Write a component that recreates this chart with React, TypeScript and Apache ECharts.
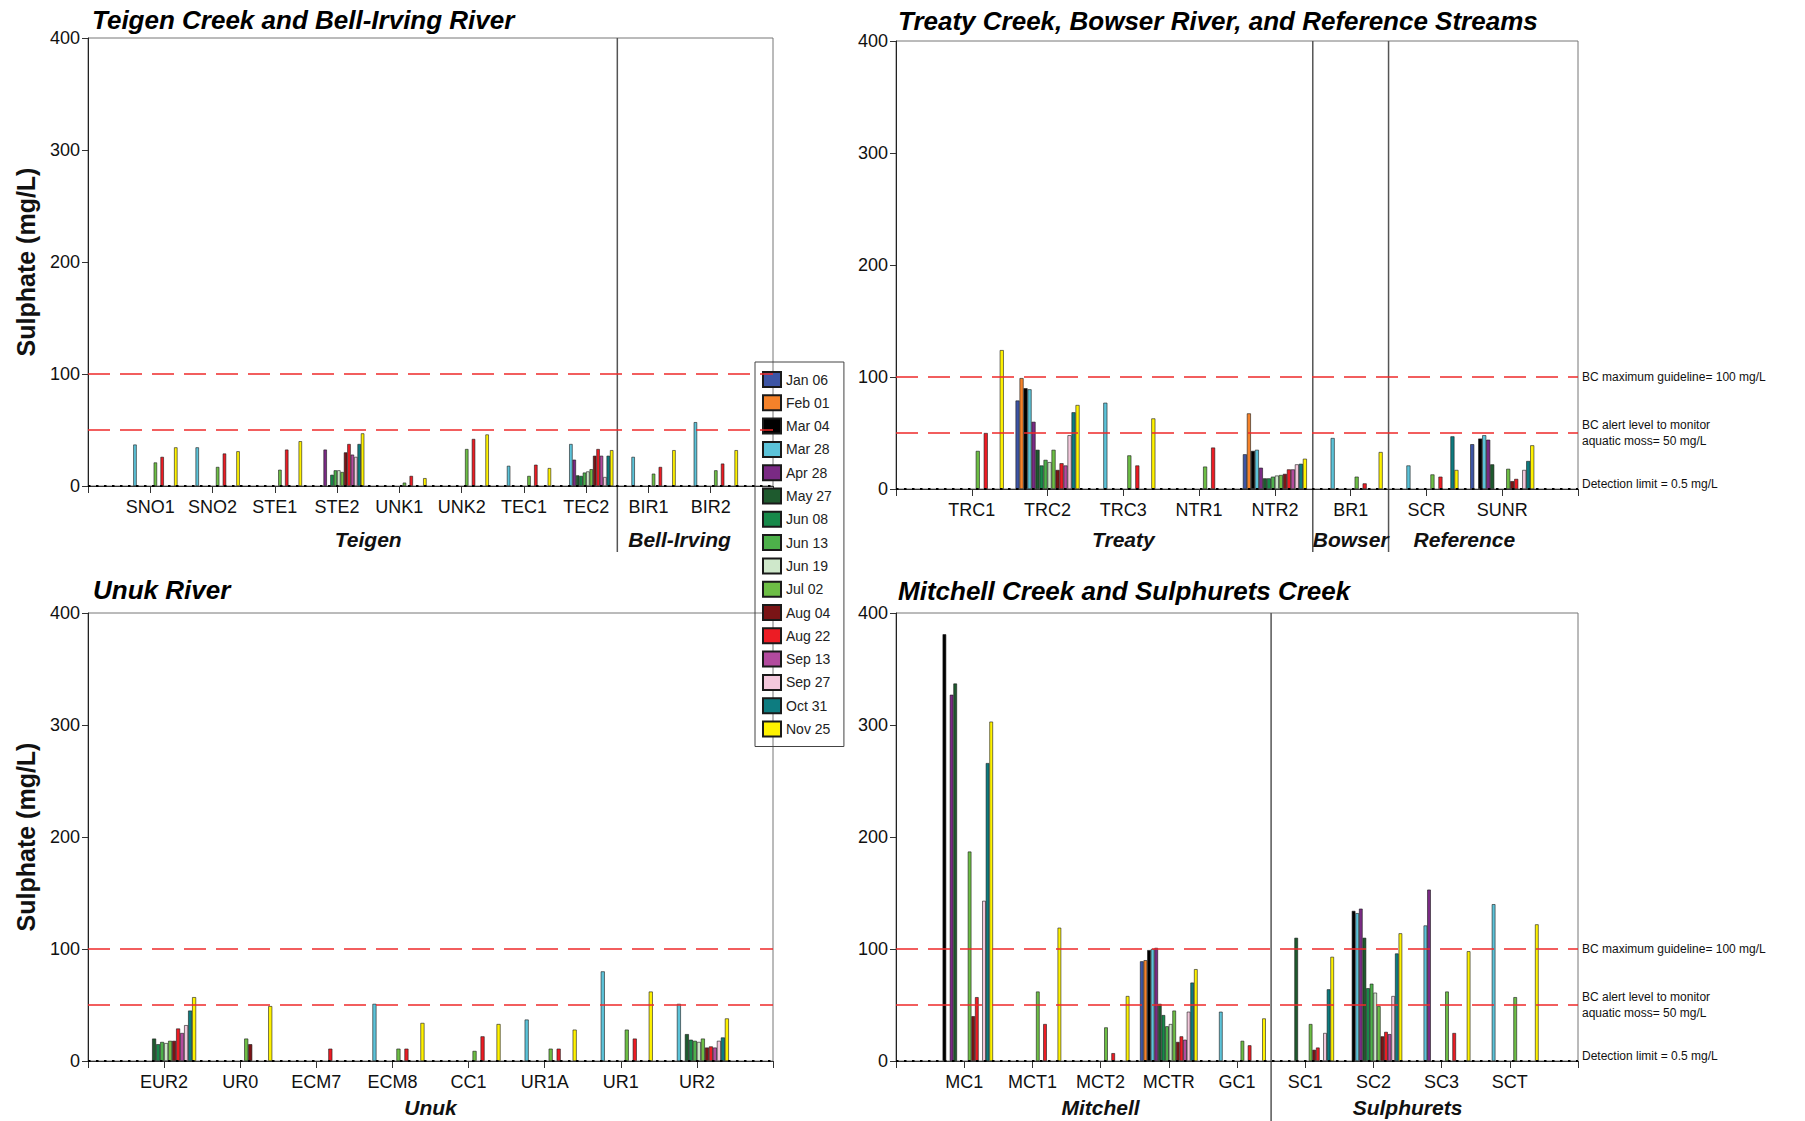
import React, { useEffect, useRef } from "react";
import * as echarts from "echarts";

const _ = null;
const DATES = ["Jan 06","Feb 01","Mar 04","Mar 28","Apr 28","May 27","Jun 08","Jun 13","Jun 19","Jul 02","Aug 04","Aug 22","Sep 13","Sep 27","Oct 31","Nov 25"];
const COLORS = ["#3D55A5","#F5822A","#000000","#5CC3D9","#7A2A84","#1E5A2E","#17894A","#4DB04A","#CFE8CB","#6DBE45","#7A1416","#EC1C24","#B24A9E","#F3C8DC","#0D7C80","#FFF200"];

// values per site, 16 sampling dates (Jan 06 ... Nov 25)
const SNO1 = [_,_,_,37,_,_,_,_,_,21,_,26,_,_,_,34.5];
const SNO2 = [_,_,_,34.5,_,_,_,_,_,17,_,29,_,_,_,31];
const STE1 = [_,_,_,_,_,_,_,_,_,14.5,_,32.5,_,_,_,40];
const STE2 = [_,_,_,_,32.5,_,10,14,14,12.5,30,37.5,28,26,37.5,47];
const UNK1 = [_,_,_,_,_,_,_,_,_,3,_,9,_,_,_,7];
const UNK2 = [_,_,_,_,_,_,_,_,_,33,_,42,_,_,_,46];
const TEC1 = [_,_,_,18,_,_,_,_,_,9,_,19,_,_,_,16];
const TEC2 = [_,_,_,37.5,23.5,9.5,9,12,13,15,27,33,27,8,27,32];
const BIR1 = [_,_,_,26,_,_,_,_,_,11,_,17,_,_,_,32];
const BIR2 = [_,_,_,57,_,_,_,_,_,14,_,20,_,_,_,32];

const TRC1 = [_,_,_,_,_,_,_,_,_,34,_,50,_,_,_,124];
const TRC2 = [79,99,90,89,60,35,21,26,24,35,17,23,21,48,68.5,75];
const TRC3 = [_,_,_,77,_,_,_,_,_,30,_,21,_,_,_,63];
const NTR1 = [_,_,_,_,_,_,_,_,_,20,_,37,_,_,_,_];
const NTR2 = [31,67.5,34,35,19,9.5,9.5,11,12,12.5,13.5,17.5,17.5,22,22.5,27];
const BR1 = [_,_,_,45.5,_,_,_,_,_,11,_,5,_,_,_,33];
const SCR = [_,_,_,21,_,_,_,_,_,13,_,11,_,_,47,17];
const SUNR = [40,_,45,48,44,22,_,_,_,18,7,9,_,17,25,39];

const EUR2 = [_,_,_,_,_,20,15,17,16,18,18,29,25,32,45,57];
const UR0 = [_,_,_,_,_,_,_,_,_,20,15,_,_,_,_,49];
const ECM7 = [_,_,_,_,_,_,_,_,_,_,_,11,_,_,_,_];
const ECM8 = [_,_,_,51,_,_,_,_,_,11,_,11,_,_,_,34];
const CC1 = [_,_,_,_,_,_,_,_,_,9,_,22,_,_,_,33];
const UR1A = [_,_,_,37,_,_,_,_,_,11,_,11,_,_,_,28];
const UR1 = [_,_,_,80,_,_,_,_,_,28,_,20,_,_,_,62];
const UR2 = [_,_,_,51,_,24,19,18,17,20,12,13,12,18,21,38];

const MC1 = [_,_,381,_,327,337,_,_,_,187,40,57,_,143,266,303];
const MCT1 = [_,_,_,_,_,_,_,_,_,62,_,33,_,_,_,119];
const MCT2 = [_,_,_,_,_,_,_,_,_,30,_,7,_,_,_,58];
const MCTR = [89,90,99,100,101,51,41,31,33,45,17,22,19,44,70,82];
const GC1 = [_,_,_,44,_,_,_,_,_,18,_,14,_,_,_,38];
const SC1 = [_,_,_,_,_,110,_,_,_,33,10,12,_,25,64,93];
const SC2 = [_,_,134,132,136,110,65,69,61,49,22,26,24,58,96,114];
const SC3 = [_,_,_,121,153,_,_,_,_,62,_,25,_,_,_,98];
const SCT = [_,_,_,140,_,_,_,_,_,57,_,_,_,_,_,122];

const TL_SITES = ["SNO1","SNO2","STE1","STE2","UNK1","UNK2","TEC1","TEC2","BIR1","BIR2"];
const TL_VALUES = [SNO1,SNO2,STE1,STE2,UNK1,UNK2,TEC1,TEC2,BIR1,BIR2];
const TR_SITES = ["TRC1","TRC2","TRC3","NTR1","NTR2","BR1","SCR","SUNR"];
const TR_VALUES = [TRC1,TRC2,TRC3,NTR1,NTR2,BR1,SCR,SUNR];
const BL_SITES = ["EUR2","UR0","ECM7","ECM8","CC1","UR1A","UR1","UR2"];
const BL_VALUES = [EUR2,UR0,ECM7,ECM8,CC1,UR1A,UR1,UR2];
const BR_SITES = ["MC1","MCT1","MCT2","MCTR","GC1","SC1","SC2","SC3","SCT"];
const BR_VALUES = [MC1,MCT1,MCT2,MCTR,GC1,SC1,SC2,SC3,SCT];

const Y_TICKS = [0, 100, 200, 300, 400];
const GUIDELINE = 100;
const ALERT = 50;
const DETECTION = 0.5;

const TITLES = ["Teigen Creek and Bell-Irving River","Treaty Creek, Bowser River, and Reference Streams","Unuk River","Mitchell Creek and Sulphurets Creek"];
// groups: [label, first site index, last site index]
const TL_GROUPS: [string, number, number][] = [["Teigen",0,7],["Bell-Irving",8,9]];
const TR_GROUPS: [string, number, number][] = [["Treaty",0,4],["Bowser",5,5],["Reference",6,7]];
const BL_GROUPS: [string, number, number][] = [["Unuk",0,7]];
const BR_GROUPS: [string, number, number][] = [["Mitchell",0,4],["Sulphurets",5,8]];

const FONT = "'Liberation Sans', Arial, sans-serif";

const PANELS = [
  { left: 88, top: 38, width: 685, height: 448, sites: TL_SITES, values: TL_VALUES, groups: TL_GROUPS, seps: [7], bw: 3.4, yName: true, notes: false, sepBottom: 552, groupY: 539 },
  { left: 896, top: 41, width: 682, height: 448, sites: TR_SITES, values: TR_VALUES, groups: TR_GROUPS, seps: [4, 5], bw: 4, yName: false, notes: true, sepBottom: 552, groupY: 539 },
  { left: 88, top: 613, width: 685, height: 448, sites: BL_SITES, values: BL_VALUES, groups: BL_GROUPS, seps: [], bw: 4, yName: true, notes: false, sepBottom: 1121, groupY: 1107 },
  { left: 896, top: 613, width: 682, height: 448, sites: BR_SITES, values: BR_VALUES, groups: BR_GROUPS, seps: [4], bw: 3.6, yName: false, notes: true, sepBottom: 1121, groupY: 1107 },
];

function buildOption() {
  const grid: any[] = [];
  const xAxis: any[] = [];
  const yAxis: any[] = [];
  const series: any[] = [];
  const graphic: any[] = [];
  const title: any[] = [];
  const titlePos = [[92, 7], [898, 8], [93, 577], [898, 578]];

  PANELS.forEach((p, pi) => {
    grid.push({ left: p.left, top: p.top, width: p.width, height: p.height, show: true, borderColor: "#777", borderWidth: 1, backgroundColor: "transparent" });
    const cats = ["", ...p.sites, ""];
    const step = p.width / (cats.length - 1);
    const xOf = (siteIdx: number) => p.left + (siteIdx + 1) * step;
    const yOf = (v: number) => p.top + p.height * (1 - v / Y_TICKS[Y_TICKS.length - 1]);
    xAxis.push({
      type: "category", gridIndex: pi, data: cats, boundaryGap: false,
      axisLine: { lineStyle: { color: "#333", width: 1 } },
      axisTick: { length: 7, lineStyle: { color: "#333" }, interval: 0 },
      axisLabel: { interval: 0, fontSize: 18, color: "#111", fontFamily: FONT, margin: 12 },
      splitLine: { show: false },
    });
    yAxis.push({
      type: "value", gridIndex: pi, min: 0, max: 400, interval: 100,
      axisLine: { show: true, lineStyle: { color: "#222" } },
      axisTick: { show: true, length: 6, lineStyle: { color: "#333" } },
      axisLabel: { fontSize: 18, color: "#111", fontFamily: FONT, margin: 8 },
      splitLine: { show: false },
      name: p.yName ? "Sulphate (mg/L)" : "",
      nameLocation: "middle", nameRotate: 90, nameGap: 50,
      nameTextStyle: { fontSize: 25, fontWeight: "bold", color: "#111", fontFamily: FONT },
    });
    DATES.forEach((d, di) => {
      const s: any = {
        type: "bar", name: d, xAxisIndex: pi, yAxisIndex: pi,
        data: [null, ...p.values.map((v) => v[di]), null],
        barWidth: p.bw, barGap: "0%",
        itemStyle: { color: COLORS[di], borderColor: "#1a1a1a", borderWidth: 0.6 },
        emphasis: { disabled: true },
      };
      if (di === 0) {
        s.markLine = {
          silent: true, symbol: "none", label: { show: false }, animation: false,
          data: [
            { yAxis: GUIDELINE, lineStyle: { color: "#EE2A2A", type: [22, 10], width: 1.6 } },
            { yAxis: ALERT, lineStyle: { color: "#EE2A2A", type: [22, 10], width: 1.6 } },
            { yAxis: DETECTION, lineStyle: { color: "#000", type: [2.5, 5.5], width: 2.2 } },
          ],
        };
      }
      series.push(s);
    });
    // separators
    p.seps.forEach((si) => {
      const x = (xOf(si) + xOf(si + 1)) / 2;
      graphic.push({ type: "line", shape: { x1: x, y1: p.top, x2: x, y2: p.sepBottom }, style: { stroke: "#555", lineWidth: 1.5 }, silent: true });
    });
    // group labels
    p.groups.forEach(([label, a, b]) => {
      graphic.push({
        type: "text", x: (xOf(a) + xOf(b)) / 2, y: p.groupY,
        style: { text: label, font: `italic bold 21px ${FONT}`, fill: "#111", align: "center", verticalAlign: "middle" },
        silent: true,
      });
    });
    if (p.notes) {
      const nx = p.left + p.width + 4;
      const note = (t: string, y: number) => graphic.push({ type: "text", x: nx, y, style: { text: t, font: `12px ${FONT}`, fill: "#111", align: "left", verticalAlign: "middle" }, silent: true });
      note("BC maximum guideline= 100 mg/L", yOf(GUIDELINE));
      note("BC alert level to monitor", yOf(ALERT) - 8);
      note("aquatic moss= 50 mg/L", yOf(ALERT) + 8);
      note("Detection limit = 0.5 mg/L", yOf(DETECTION) - 4);
    }
    title.push({
      text: TITLES[pi], left: titlePos[pi][0], top: titlePos[pi][1], padding: 0,
      textStyle: { fontSize: 26, fontWeight: "bold", fontStyle: "italic", color: "#000", fontFamily: FONT },
    });
  });

  return {
    animation: false,
    backgroundColor: "#fff",
    textStyle: { fontFamily: FONT },
    title,
    legend: {
      data: DATES, orient: "vertical", left: 755, top: 362,
      itemWidth: 18, itemHeight: 15, itemGap: 6.3, icon: "rect",
      padding: [9, 12, 9, 7], borderColor: "#444", borderWidth: 1,
      textStyle: { fontSize: 14, color: "#222", fontFamily: FONT },
      selectedMode: false,
    },
    grid, xAxis, yAxis, series, graphic,
  };
}

export default function App() {
  const ref = useRef<HTMLDivElement>(null);
  useEffect(() => {
    if (!ref.current) return;
    const chart = echarts.init(ref.current, undefined, { renderer: "svg" });
    chart.setOption(buildOption() as any);
    return () => chart.dispose();
  }, []);
  return <div ref={ref} style={{ position: "fixed", left: 0, top: 0, width: 1805, height: 1121, background: "#fff" }} />;
}
